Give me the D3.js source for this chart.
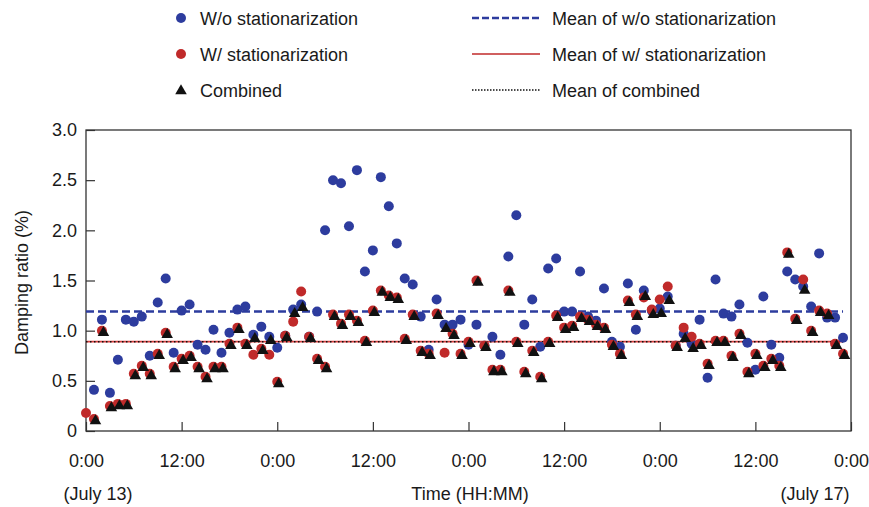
<!DOCTYPE html>
<html>
<head>
<meta charset="utf-8">
<script src="https://cdn.jsdelivr.net/npm/d3@7"></script>
<style>
  body { margin: 0; background: #fff; }
  text { font-family: "Liberation Sans", Arial, sans-serif; fill: #1a1a1a; }
</style>
</head>
<body>
<div class="chart"></div>
<script>
// hourly samples, Jul 13 0:00 -> Jul 16 23:00
const hours = d3.range(0, 96);

const woStat = [null, 0.41, 1.11, 0.38, 0.71, 1.11, 1.09, 1.14, 0.75, 1.28,
  1.52, 0.78, 1.20, 1.26, 0.86, 0.81, 1.01, 0.78, 0.98, 1.21,
  1.24, 0.96, 1.04, 0.94, 0.83, 0.95, 1.21, 1.26, 0.94, 1.19,
  2.00, 2.50, 2.47, 2.04, 2.60, 1.59, 1.80, 2.53, 2.24, 1.87,
  1.52, 1.46, 1.14, 0.81, 1.31, 1.06, 1.06, 1.11, 0.86, 1.06,
  0.85, 0.94, 0.76, 1.74, 2.15, 1.06, 1.31, 0.84, 1.62, 1.72,
  1.19, 1.19, 1.59, 1.14, 1.10, 1.42, 0.89, 0.84, 1.47, 1.01,
  1.40, 1.20, 1.22, 1.34, 0.85, 0.97, 0.87, 1.11, 0.53, 1.51,
  1.17, 1.14, 1.26, 0.88, 0.61, 1.34, 0.86, 0.73, 1.59, 1.51,
  1.44, 1.24, 1.77, 1.13, 1.13, 0.93];

const wStat = [0.18, 0.12, 1.00, 0.25, 0.27, 0.27, 0.57, 0.65, 0.57, 0.77,
  0.98, 0.64, 0.72, 0.75, 0.64, 0.54, 0.64, 0.64, 0.87, 1.03,
  0.87, 0.76, 0.82, 0.76, 0.49, 0.95, 1.09, 1.39, 0.94, 0.72,
  0.64, 1.16, 1.07, 1.16, 1.10, 0.90, 1.20, 1.40, 1.35, 1.33,
  0.92, 1.16, 0.80, 0.77, 1.17, 0.78, 0.97, 0.77, 0.89, 1.50,
  0.85, 0.61, 0.61, 1.40, 0.89, 0.59, 0.80, 0.54, 0.89, 1.15,
  1.03, 1.05, 1.14, 1.11, 1.06, 1.03, 0.86, 0.77, 1.30, 1.16,
  1.33, 1.21, 1.31, 1.44, 0.85, 1.03, 0.94, 0.87, 0.67, 0.90,
  0.90, 0.75, 0.97, 0.59, 0.77, 0.65, 0.72, 0.65, 1.78, 1.12,
  1.51, 1.00, 1.20, 1.17, 0.87, 0.77];

const combined = [null, 0.12, 1.00, 0.25, 0.27, 0.27, 0.57, 0.65, 0.57, 0.77,
  0.98, 0.64, 0.72, 0.75, 0.64, 0.54, 0.64, 0.64, 0.87, 1.03,
  0.87, 0.94, 0.82, 0.92, 0.49, 0.95, 1.19, 1.25, 0.94, 0.72,
  0.64, 1.16, 1.07, 1.16, 1.10, 0.90, 1.20, 1.40, 1.35, 1.33,
  0.92, 1.16, 0.80, 0.77, 1.17, 1.04, 0.97, 0.77, 0.89, 1.50,
  0.85, 0.61, 0.61, 1.40, 0.89, 0.59, 0.80, 0.54, 0.89, 1.15,
  1.03, 1.05, 1.14, 1.11, 1.06, 1.03, 0.86, 0.77, 1.30, 1.16,
  1.36, 1.18, 1.19, 1.32, 0.85, 0.94, 0.84, 0.87, 0.67, 0.90,
  0.90, 0.75, 0.97, 0.59, 0.77, 0.65, 0.72, 0.65, 1.78, 1.12,
  1.42, 1.00, 1.20, 1.17, 0.87, 0.77];

const meanWo = 1.19;
const meanW = 0.89;
const meanComb = 0.89;

const xTicks = [0, 12, 24, 36, 48, 60, 72, 84, 96];
const xTickLabels = ['0:00', '12:00', '0:00', '12:00', '0:00', '12:00', '0:00', '12:00', '0:00'];
const yTicks = [0, 0.5, 1.0, 1.5, 2.0, 2.5, 3.0];

const blue = '#2d3c9e';
const red = '#c02a2a';
const fontSize = '18px';

const svgWidth = 869, svgHeight = 507;
const margin = { top: 130, right: 18, bottom: 76, left: 86 };
const width = svgWidth - margin.left - margin.right;
const height = svgHeight - margin.top - margin.bottom;

const svgRoot = d3.select('.chart').append('svg')
  .attr('width', svgWidth)
  .attr('height', svgHeight);

const svg = svgRoot.append('g')
  .attr('transform', `translate(${margin.left},${margin.top})`);

const x = d3.scaleLinear().domain([0, 96]).range([0, width]);
const y = d3.scaleLinear().domain([0, 3]).range([height, 0]);

// axes with inward ticks
const xAxis = svg.append('g')
  .attr('transform', `translate(0,${height})`)
  .call(d3.axisBottom(x).tickValues(xTicks).tickSize(-9).tickPadding(23)
    .tickFormat((d, i) => xTickLabels[i]));
const yAxis = svg.append('g')
  .call(d3.axisLeft(y).tickValues(yTicks).tickSize(-9).tickPadding(9)
    .tickFormat(d => d === 0 ? '0' : d3.format('.1f')(d)));

[xAxis, yAxis].forEach(a => {
  a.select('.domain').remove();
  a.selectAll('line').attr('stroke', '#333').attr('stroke-width', 1.2);
  a.selectAll('text').style('font-size', fontSize).attr('fill', '#1a1a1a')
    .style('font-family', '"Liberation Sans", Arial, sans-serif');
});

svg.append('rect')
  .attr('width', width).attr('height', height)
  .attr('fill', 'none').attr('stroke', '#333').attr('stroke-width', 1.3);

// mean lines
const meanLine = (v, color, dash, w) => svg.append('line')
  .attr('x1', x(0)).attr('x2', x(95))
  .attr('y1', y(v)).attr('y2', y(v))
  .attr('stroke', color).attr('stroke-width', w)
  .attr('stroke-dasharray', dash);

meanLine(meanWo, blue, '8,4', 2.5);
meanLine(meanW, '#d84040', null, 1.8);
meanLine(meanComb, '#111', '1.5,2.5', 1.6);

// points
const pts = arr => hours.map((h, i) => ({ h, v: arr[i] })).filter(d => d.v != null);

svg.selectAll('.wo').data(pts(woStat)).enter().append('circle')
  .attr('cx', d => x(d.h)).attr('cy', d => y(d.v)).attr('r', 5)
  .attr('fill', blue);

svg.selectAll('.w').data(pts(wStat)).enter().append('circle')
  .attr('cx', d => x(d.h)).attr('cy', d => y(d.v)).attr('r', 5)
  .attr('fill', red);

const tri = d3.symbol().type(d3.symbolTriangle).size(58);
svg.selectAll('.comb').data(pts(combined)).enter().append('path')
  .attr('d', tri)
  .attr('transform', d => `translate(${x(d.h) + 1.5},${y(d.v) + 2})`)
  .attr('fill', '#111');

// axis titles
svgRoot.append('text')
  .attr('transform', `translate(28,${margin.top + height / 2 + 2}) rotate(-90)`)
  .attr('text-anchor', 'middle')
  .style('font-size', fontSize)
  .text('Damping ratio (%)');

svgRoot.append('text')
  .attr('x', 470).attr('y', 500)
  .attr('text-anchor', 'middle').style('font-size', fontSize)
  .text('Time (HH:MM)');
svgRoot.append('text')
  .attr('x', 98).attr('y', 500)
  .attr('text-anchor', 'middle').style('font-size', fontSize)
  .text('(July 13)');
svgRoot.append('text')
  .attr('x', 815).attr('y', 500)
  .attr('text-anchor', 'middle').style('font-size', fontSize)
  .text('(July 17)');

// legend
const legend = svgRoot.append('g');
const rows = [18, 54, 90];
legend.append('circle').attr('cx', 181).attr('cy', rows[0]).attr('r', 5).attr('fill', blue);
legend.append('circle').attr('cx', 181).attr('cy', rows[1]).attr('r', 5).attr('fill', red);
legend.append('path').attr('d', tri).attr('transform', `translate(181,${rows[2] + 1})`).attr('fill', '#111');

const leftLabels = ['W/o stationarization', 'W/ stationarization', 'Combined'];
leftLabels.forEach((t, i) => legend.append('text')
  .attr('x', 200).attr('y', rows[i] + 6.5).style('font-size', fontSize).text(t));

const lineStyles = [
  { color: blue, dash: '7,3', w: 2.5 },
  { color: red, dash: null, w: 1.5 },
  { color: '#111', dash: '1.5,1.5', w: 1.5 }
];
lineStyles.forEach((s, i) => legend.append('line')
  .attr('x1', 472).attr('x2', 540).attr('y1', rows[i]).attr('y2', rows[i])
  .attr('stroke', s.color).attr('stroke-width', s.w).attr('stroke-dasharray', s.dash));

const rightLabels = ['Mean of w/o stationarization', 'Mean of w/ stationarization', 'Mean of combined'];
rightLabels.forEach((t, i) => legend.append('text')
  .attr('x', 552).attr('y', rows[i] + 6.5).style('font-size', fontSize).text(t));
</script>
</body>
</html>
